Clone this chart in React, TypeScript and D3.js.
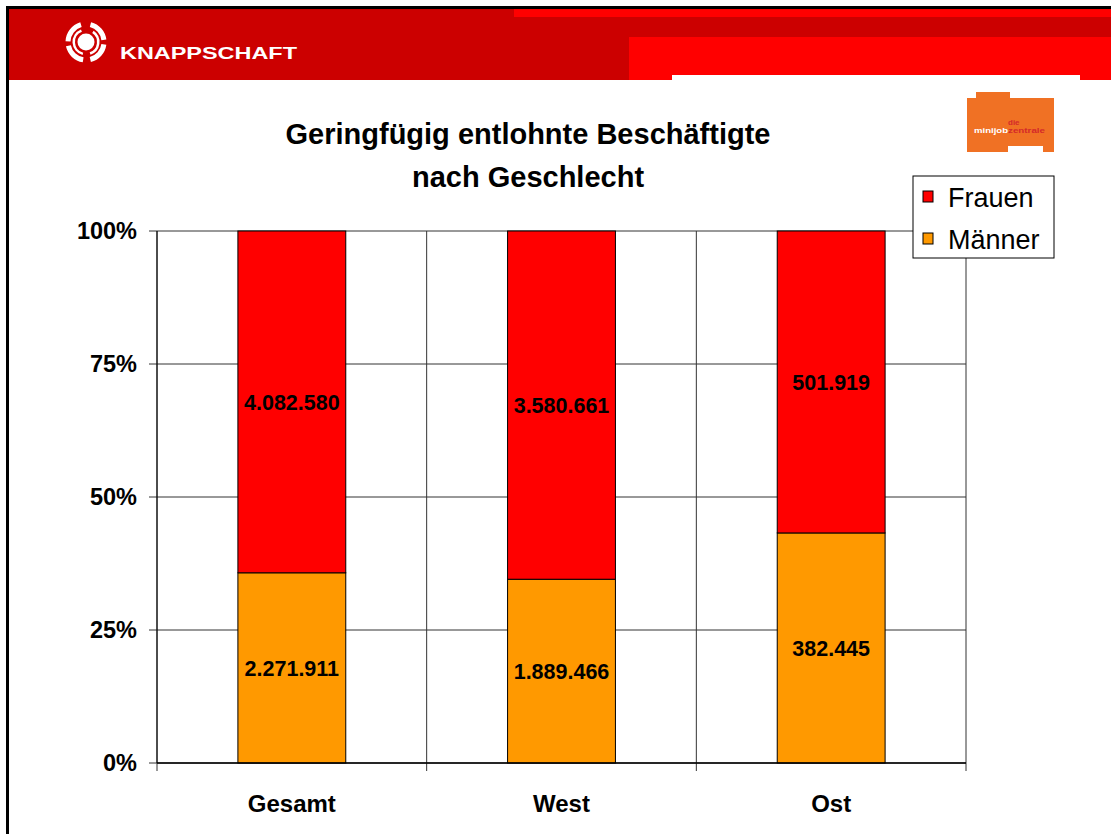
import React from "react";
import * as d3 from "d3";

// Geringfügig entlohnte Beschäftigte nach Geschlecht
const categories = ["Gesamt", "West", "Ost"];
const frauen = [4082580, 3580661, 501919];
const maenner = [2271911, 1889466, 382445];
const yTicks = [0, 0.25, 0.5, 0.75, 1];
const seriesNames = ["Frauen", "Männer"];

const W = 1111, H = 834;
const margin = { left: 157, right: 966, top: 231, bottom: 763 };
const FONT = "'Liberation Sans', Arial, sans-serif";

const deFormat = d3.formatLocale({ decimal: ",", thousands: ".", grouping: [3], currency: ["", " €"] }).format(",d");

export default function App() {
  const rows = categories.map((c, i) => ({ cat: c, Maenner: maenner[i], Frauen: frauen[i] }));
  const stack = d3.stack<any>().keys(["Maenner", "Frauen"]).offset(d3.stackOffsetExpand);
  const layers = stack(rows);
  const colors: Record<string, string> = { Maenner: "#FF9900", Frauen: "#FF0000" };

  const xCat = d3.scaleBand().domain(categories).range([margin.left, margin.right]).padding(0);
  const xBar = d3.scaleBand().domain(categories).range([margin.left, margin.right]).paddingInner(0.6).paddingOuter(0.3);
  const y = d3.scaleLinear().domain([0, 1]).range([margin.bottom, margin.top]);

  const boundaries = categories.map((c) => xCat(c)!).concat([margin.right]);

  // Knappschaft ring logo arcs
  const cx = 86, cy = 42;
  const outer = d3.arc<any>().innerRadius(15.5).outerRadius(20.5);
  const mid = d3.arc<any>().innerRadius(11).outerRadius(13.5);
  const outerSegs = [[0.25, 1.45], [1.7, 2.9], [3.3, 4.5], [4.75, 6.0]];
  const midSegs = [[0.6, 2.8], [3.4, 5.9]];

  return (
    <svg width={W} height={H} viewBox={`0 0 ${W} ${H}`} style={{ display: "block", position: "absolute", left: 0, top: 0, background: "#fff" }}>
      {/* frame */}
      <rect x={0} y={0} width={W} height={H} fill="#fff" />
      <rect x={6} y={6} width={W - 6} height={3} fill="#000" />
      <rect x={6} y={6} width={3} height={H - 6} fill="#000" />

      {/* header */}
      <rect x={9} y={9} width={W - 9} height={71} fill="#CC0000" />
      <rect x={514} y={9} width={W - 514} height={8} fill="#FF0000" />
      <rect x={629} y={37} width={W - 629} height={43} fill="#FF0000" />
      <rect x={672} y={75} width={408} height={5} fill="#fff" />

      {/* Knappschaft logo */}
      <g transform={`translate(${cx},${cy})`} fill="#fff">
        <circle r={8.5} />
        {outerSegs.map((s, i) => (
          <path key={"o" + i} d={outer({ startAngle: s[0], endAngle: s[1] })!} />
        ))}
        {midSegs.map((s, i) => (
          <path key={"m" + i} d={mid({ startAngle: s[0], endAngle: s[1] })!} />
        ))}
      </g>
      <text x={120} y={59} fill="#fff" fontFamily={FONT} fontSize={17} fontWeight="bold" textLength={177} lengthAdjust="spacingAndGlyphs">
        KNAPPSCHAFT
      </text>

      {/* minijob-zentrale logo */}
      <path
        d="M967,98 L976,98 L976,92 L1010,92 L1010,98 L1054,98 L1054,152 L1043,152 L1043,146 L1008,146 L1008,152 L967,152 Z"
        fill="#F07124"
      />
      <text x={1008} y={125} fill="#D42A2A" fontFamily={FONT} fontSize={8} fontWeight="bold">die</text>
      <text x={974} y={133} fill="#fff" fontFamily={FONT} fontSize={8} fontWeight="bold" textLength={34} lengthAdjust="spacingAndGlyphs">minijob</text>
      <text x={1008} y={133} fill="#D42A2A" fontFamily={FONT} fontSize={8} fontWeight="bold" textLength={37} lengthAdjust="spacingAndGlyphs">zentrale</text>

      {/* title */}
      <text x={528} y={144} textAnchor="middle" fontFamily={FONT} fontSize={29} fontWeight="bold" fill="#000">
        Geringfügig entlohnte Beschäftigte
      </text>
      <text x={528} y={187} textAnchor="middle" fontFamily={FONT} fontSize={29} fontWeight="bold" fill="#000">
        nach Geschlecht
      </text>

      {/* gridlines */}
      {yTicks.map((t) => (
        <line key={"h" + t} x1={margin.left - 8} x2={margin.right} y1={y(t)} y2={y(t)} stroke="#333" strokeWidth={1} />
      ))}
      {boundaries.map((b, i) => (
        <line key={"v" + i} x1={b} x2={b} y1={margin.top} y2={margin.bottom + 8} stroke="#333" strokeWidth={1} />
      ))}

      {/* bars */}
      {layers.map((layer) => (
        <g key={layer.key}>
          {layer.map((d, i) => (
            <rect
              key={i}
              x={xBar(categories[i])}
              y={y(d[1])}
              width={xBar.bandwidth()}
              height={y(d[0]) - y(d[1])}
              fill={colors[layer.key]}
              stroke="#000"
              strokeWidth={1}
            />
          ))}
        </g>
      ))}

      {/* value labels */}
      {layers.map((layer) => (
        <g key={"l" + layer.key}>
          {layer.map((d, i) => (
            <text
              key={i}
              x={xBar(categories[i])! + xBar.bandwidth() / 2}
              y={(y(d[0]) + y(d[1])) / 2 + 8}
              textAnchor="middle"
              fontFamily={FONT}
              fontSize={21.5}
              fontWeight="bold"
              fill="#000"
            >
              {deFormat(layer.key === "Frauen" ? frauen[i] : maenner[i])}
            </text>
          ))}
        </g>
      ))}

      {/* axis line */}
      <line x1={margin.left} x2={margin.right} y1={margin.bottom} y2={margin.bottom} stroke="#000" strokeWidth={1.5} />
      <line x1={margin.left} x2={margin.left} y1={margin.top} y2={margin.bottom} stroke="#000" strokeWidth={1} />

      {/* y labels */}
      {yTicks.map((t) => (
        <text key={"yl" + t} x={137} y={y(t) + 8} textAnchor="end" fontFamily={FONT} fontSize={23.5} fontWeight="bold" fill="#000">
          {d3.format(".0%")(t)}
        </text>
      ))}

      {/* x labels */}
      {categories.map((c) => (
        <text key={c} x={xCat(c)! + xCat.bandwidth() / 2} y={812} textAnchor="middle" fontFamily={FONT} fontSize={24} fontWeight="bold" fill="#000">
          {c}
        </text>
      ))}

      {/* legend */}
      <rect x={913} y={176} width={141} height={82} fill="#fff" stroke="#000" strokeWidth={1} />
      {seriesNames.map((s, i) => (
        <g key={s}>
          <rect x={923} y={191 + i * 42} width={10} height={11} fill={i === 0 ? colors.Frauen : colors.Maenner} stroke="#000" strokeWidth={1} />
          <text x={948} y={207 + i * 42} fontFamily={FONT} fontSize={27} fill="#000">
            {s}
          </text>
        </g>
      ))}
    </svg>
  );
}
